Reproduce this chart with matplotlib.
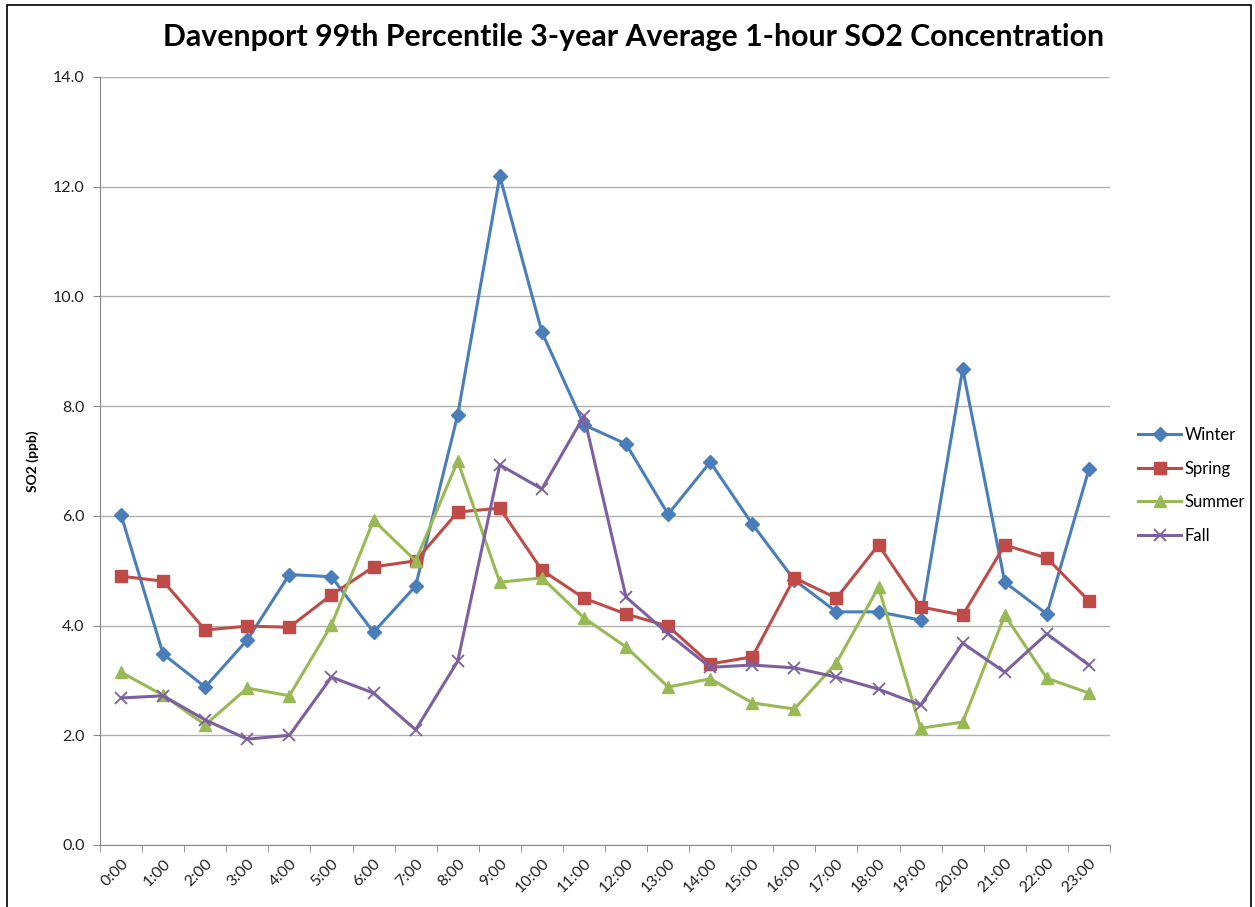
import matplotlib.pyplot as plt
from matplotlib.patches import Rectangle

# 数据
hours = [f'{h}:00' for h in range(24)]
winter = [6.02, 3.48, 2.88, 3.74, 4.93, 4.89, 3.88, 4.72, 7.84, 12.19, 9.35, 7.66,
          7.31, 6.03, 6.98, 5.85, 4.83, 4.25, 4.25, 4.10, 8.68, 4.79, 4.21, 6.85]
spring = [4.90, 4.81, 3.92, 3.99, 3.97, 4.56, 5.07, 5.18, 6.07, 6.14, 5.01, 4.50,
          4.21, 3.99, 3.30, 3.43, 4.87, 4.50, 5.47, 4.34, 4.19, 5.47, 5.23, 4.45]
summer = [3.15, 2.73, 2.19, 2.86, 2.72, 4.01, 5.92, 5.18, 7.00, 4.79, 4.87, 4.14,
          3.61, 2.88, 3.03, 2.59, 2.48, 3.32, 4.70, 2.13, 2.24, 4.19, 3.04, 2.77]
fall = [2.68, 2.72, 2.28, 1.93, 2.00, 3.06, 2.77, 2.10, 3.35, 6.93, 6.49, 7.82,
        4.52, 3.85, 3.24, 3.28, 3.23, 3.06, 2.84, 2.55, 3.68, 3.15, 3.85, 3.28]

plt.rcParams['font.family'] = ['Lato', 'DejaVu Sans']

fig = plt.figure(figsize=(12.55, 9.07), dpi=100)
ax = fig.add_axes([100 / 1255, 1 - 845 / 907, 1010 / 1255, 768 / 907])

x = range(len(hours))
ax.plot(x, winter, color='#4A7EBB', lw=2.2, marker='D', ms=7, label='Winter')
ax.plot(x, spring, color='#BE4B48', lw=2.2, marker='s', ms=8, label='Spring')
ax.plot(x, summer, color='#98B954', lw=2.2, marker='^', ms=8, label='Summer')
ax.plot(x, fall, color='#7D60A0', lw=2.2, marker='x', ms=9, mew=1.3, label='Fall')

# 坐标轴
ax.set_xlim(-0.5, 23.5)
ax.set_ylim(0, 14)
ax.set_yticks(range(0, 15, 2))
ax.set_yticklabels([f'{v:.1f}' for v in range(0, 15, 2)], fontsize=11.5, color='#222222')
ax.set_xticks(list(x))
ax.set_xticklabels(hours, rotation=45, ha='right', va='top', rotation_mode='anchor',
                   fontsize=11.5, color='#222222')
ax.set_xticks([i - 0.5 for i in range(25)], minor=True)
ax.tick_params(axis='x', which='major', length=0, pad=8)
ax.tick_params(axis='x', which='minor', length=5, color='#888888')
ax.tick_params(axis='y', length=5, color='#888888', pad=6)
ax.yaxis.grid(True, color='#B0B0B0', lw=1)
ax.set_axisbelow(True)
for s in ['top', 'right']:
    ax.spines[s].set_visible(False)
for s in ['left', 'bottom']:
    ax.spines[s].set_color('#888888')

ax.set_ylabel('SO2 (ppb)', fontsize=10, fontweight='bold', labelpad=10)
fig.text(0.505, 0.959, 'Davenport 99th Percentile 3-year Average 1-hour SO2 Concentration',
         ha='center', va='center', fontsize=21.8, fontweight='bold')

ax.legend(loc='center left', bbox_to_anchor=(1.013, 0.468), frameon=False, fontsize=12,
          handlelength=2.6, labelspacing=1.05, handletextpad=0.2)

# 外边框
fig.patches.append(Rectangle((7 / 1255, -0.01), 1244 / 1255, 1 - 5 / 907 + 0.01,
                             transform=fig.transFigure, fill=False, ec='black', lw=1.2))

fig.savefig('out.png', dpi=100)
